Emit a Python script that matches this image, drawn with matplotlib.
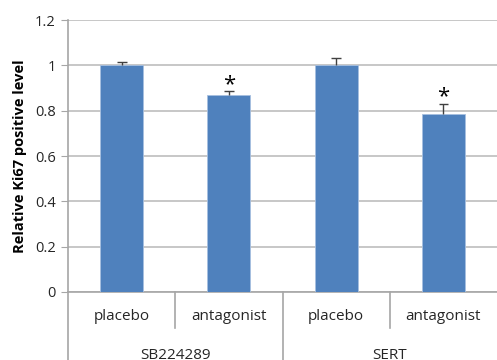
import numpy as np
import matplotlib
matplotlib.use("Agg")
import matplotlib.pyplot as plt
import matplotlib.transforms as mtransforms

groups = ["SB224289", "SERT"]
conditions = ["placebo", "antagonist", "placebo", "antagonist"]
values = [1.0, 0.868, 1.0, 0.785]
errors = [0.016, 0.02, 0.034, 0.047]
signif = [False, True, False, True]

plt.rcParams['font.family'] = ['Open Sans', 'DejaVu Sans']

fig = plt.figure(figsize=(4.97, 3.6), dpi=100)
ax = fig.add_axes([0.137, 0.189, 0.863, 0.755])

x = np.arange(len(values))
ax.bar(x, values, width=0.4, color="#4F81BD", edgecolor="#A7C0E0", linewidth=0.6, zorder=3)
# upper error bars only
tops = np.array(values) + np.array(errors)
ax.vlines(x, values, tops, color="#404040", lw=1, zorder=4)
ax.hlines(tops, x - 0.045, x + 0.045, color="#404040", lw=1, zorder=4)
for xi, t, s in zip(x, tops, signif):
    if s:
        ax.text(xi, t + 0.028, "*", ha="center", va="center", fontsize=16, color="black")

ax.set_xlim(-0.5, len(values) - 0.5)
ax.set_ylim(0, 1.2)
ax.set_yticks(np.arange(0, 1.21, 0.2))
ax.set_yticklabels(["0", "0.2", "0.4", "0.6", "0.8", "1", "1.2"])
ax.yaxis.grid(True, color="#BEBEBE", linewidth=1.2, zorder=0)
ax.set_axisbelow(True)
for sp in ["top", "right"]:
    ax.spines[sp].set_visible(False)
ax.spines["left"].set_color("#A6A6A6")
ax.spines["bottom"].set_color("#A6A6A6")
ax.spines["left"].set_linewidth(1.2)
ax.spines["bottom"].set_linewidth(1.2)
ax.tick_params(axis="y", colors="#A6A6A6", labelcolor="#262626", labelsize=10.5, length=5, pad=4)
ax.set_xticks([])
ax.set_ylabel("Relative Ki67 positive level", fontsize=10.5, fontweight="bold", labelpad=6)

# category labels and separators below the axis
trans = mtransforms.blended_transform_factory(ax.transData, ax.transAxes)
for xi, c in zip(x, conditions):
    ax.text(xi, -0.092, c, transform=trans, ha="center", va="center", fontsize=11, color="#262626")
for sx in [0.5, 2.5]:
    ax.plot([sx, sx], [0, -0.133], transform=trans, color="#A6A6A6", lw=1.2, clip_on=False)
for sx in [-0.5, 1.5]:
    ax.plot([sx, sx], [0, -0.3], transform=trans, color="#A6A6A6", lw=1.2, clip_on=False)
for gi, g in enumerate(groups):
    ax.text(2 * gi + 0.5, -0.235, g, transform=trans, ha="center", va="center", fontsize=11, color="#262626")

fig.savefig("out.png", dpi=100)
